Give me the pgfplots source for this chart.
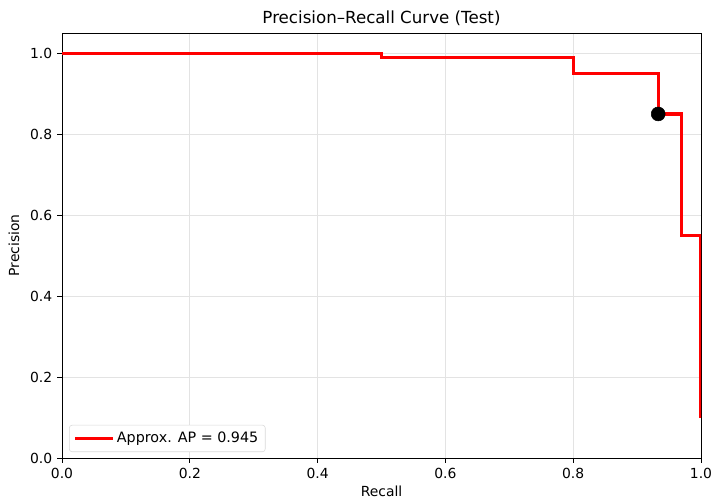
\documentclass[border=0pt]{standalone}
\usepackage{pgfplots}
\pgfplotsset{compat=1.18}
\usepackage{fontspec}
\setmainfont{DejaVu Sans}
\begin{document}
\begin{tikzpicture}
\begin{axis}[
  scale only axis,
  width=460.08pt, height=306pt,
  xmin=0, xmax=1, ymin=0, ymax=1.05,
  xtick={0,0.2,0.4,0.6,0.8,1.0},
  ytick={0,0.2,0.4,0.6,0.8,1.0},
  xticklabel style={/pgf/number format/.cd,fixed,fixed zerofill,precision=1},
  yticklabel style={/pgf/number format/.cd,fixed,fixed zerofill,precision=1},
  /pgf/number format/assume math mode=true,
  tick label style={font=\fontsize{10}{12}\selectfont},
  tick align=outside, tick pos=left,
  major tick length=3.5pt,
  every tick/.style={black, line width=0.6pt},
  axis line style={line width=0.6pt},
  grid=major,
  grid style={gray!22, line width=0.6pt},
  title={Precision–Recall Curve (Test)},
  title style={font=\fontsize{12}{14}\selectfont, at={(0.5,1)}, anchor=south, yshift=-4.5pt},
  xlabel={Recall}, ylabel={Precision},
  label style={font=\fontsize{10}{12}\selectfont},
  xlabel style={yshift=1pt},
  ylabel style={yshift=1pt},
  legend style={font=\fontsize{10.3}{12}\selectfont, draw=gray!30, rounded corners=2pt,
    at={(0.011,0.014)}, anchor=south west, inner xsep=3pt, inner ysep=3pt},
  legend cell align=left,
  legend image code/.code={\draw[#1, line width=2.3pt] (0pt,0pt) -- (23.5pt,0pt); \path (0pt,0pt) -- (27pt,0pt);},
]
\addplot[red, line width=2.3pt, line join=miter, clip=false] coordinates {
  (0,1.0) (0.5,1.0) (0.5,0.99) (0.8,0.99) (0.8,0.95) (0.933,0.95)
  (0.933,0.85) (0.97,0.85) (0.97,0.55) (1.0,0.55) (1.0,0.1)
};
\addlegendentry{Approx. AP = 0.945}
\addplot[only marks, mark=*, mark size=5pt, black, forget plot, clip=false] coordinates {(0.933,0.85)};
\end{axis}
\pgfresetboundingbox
\path[use as bounding box] ([shift={(-44.64pt,-33.12pt)}]current axis.south west) rectangle ([shift={(7.92pt,23.76pt)}]current axis.north east);
\end{tikzpicture}
\end{document}
